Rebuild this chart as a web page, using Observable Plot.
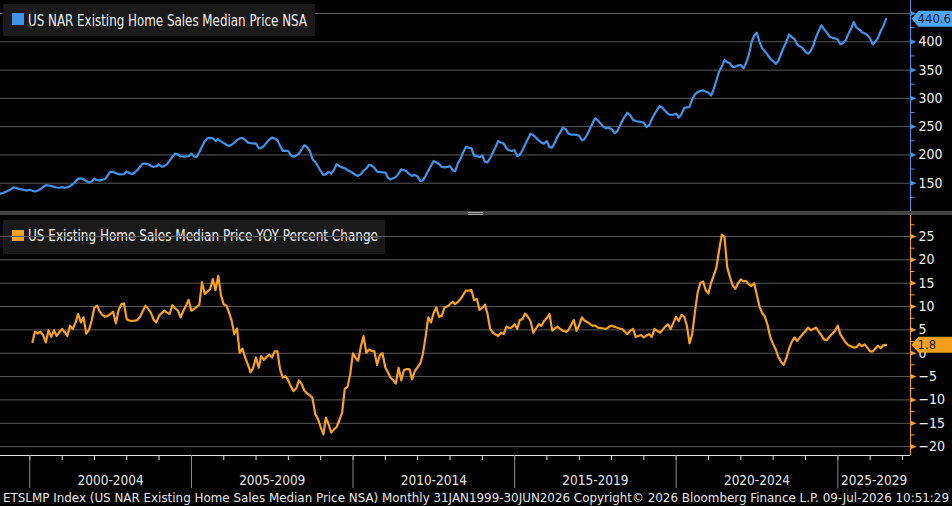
<!DOCTYPE html>
<html>
<head>
<meta charset="utf-8">
<title>US NAR Existing Home Sales Median Price</title>
<script src="https://cdn.jsdelivr.net/npm/d3@7"></script>
<script src="https://cdn.jsdelivr.net/npm/@observablehq/plot@0.6"></script>
<style>
  html, body { margin: 0; padding: 0; background: #000; }
  #chart {
    position: relative; width: 952px; height: 506px; background: #000; overflow: hidden;
    font-family: "DejaVu Sans Condensed", "Liberation Sans Narrow", "DejaVu Sans", sans-serif;
  }
  .layer { position: absolute; left: 0; }
  #sep { top: 211px; width: 952px; height: 4px; background: #454545; z-index: 3; }
  .grip { position: absolute; left: 468px; width: 15px; height: 1px; background: #a8a8a8; }
</style>
</head>
<body>
<div id="chart">
  <svg id="under" class="layer" style="top:0;z-index:0" width="952" height="506"></svg>
  <div id="top" class="layer" style="top:0;z-index:1"></div>
  <div id="bottom" class="layer" style="top:215px;z-index:1"></div>
  <div id="sep" class="layer"><div class="grip" style="top:1px"></div><div class="grip" style="top:3px"></div></div>
  <svg id="over" class="layer" style="top:0;z-index:2" width="952" height="506"></svg>
</div>
<script>
// Median existing-home sales price, thousands of USD, monthly from January 1999
const priceStart = [1999, 0];
const priceValues = [
  131.5, 132.5, 134.5, 136.5, 139.0, 142.5, 142.0, 140.0, 139.0, 138.0, 137.0, 138.5, // 1999
  136.5, 135.3, 137.0, 139.4, 143.0, 146.5, 146.0, 145.3, 143.5, 142.4, 142.0, 143.0, // 2000
  142.0, 142.5, 145.0, 148.2, 153.0, 158.2, 158.5, 157.0, 154.0, 151.2, 153.0, 158.0, // 2001
  155.5, 155.0, 156.0, 157.5, 164.0, 170.6, 170.0, 168.0, 166.0, 165.5, 166.0, 170.6, // 2002
  168.0, 165.9, 169.0, 173.0, 179.0, 184.7, 184.5, 183.5, 181.0, 178.8, 180.0, 183.5, // 2003
  179.0, 180.0, 184.0, 190.0, 197.0, 202.4, 201.0, 197.7, 197.0, 197.5, 197.7, 202.4, // 2004
  197.0, 196.5, 205.3, 215.0, 224.0, 229.4, 230.0, 229.4, 224.7, 227.6, 224.0, 221.0, // 2005
  218.0, 215.9, 218.0, 222.0, 226.0, 229.4, 230.0, 227.0, 221.8, 221.0, 220.5, 220.0, // 2006
  211.8, 212.0, 216.0, 221.8, 227.0, 230.6, 229.0, 225.9, 216.0, 207.0, 207.5, 207.0, // 2007
  199.0, 197.0, 199.0, 202.4, 210.0, 217.1, 214.0, 207.0, 192.4, 188.0, 180.0, 172.0, // 2008
  164.7, 166.0, 170.0, 167.0, 174.0, 183.5, 180.0, 178.0, 176.5, 173.0, 171.0, 168.0, // 2009
  164.5, 163.0, 166.0, 172.0, 176.0, 182.4, 181.0, 177.0, 170.6, 170.0, 169.0, 168.8, // 2010
  160.0, 156.5, 159.0, 161.2, 167.0, 174.7, 173.0, 170.6, 166.0, 163.0, 164.7, 162.0, // 2011
  154.1, 155.0, 163.0, 172.0, 181.0, 189.4, 187.0, 184.0, 178.8, 178.0, 179.0, 180.0, // 2012
  173.0, 171.0, 185.0, 193.0, 205.0, 214.1, 213.0, 211.8, 199.0, 198.0, 196.0, 199.0, // 2013
  188.0, 186.5, 195.0, 204.0, 214.0, 224.7, 222.0, 220.0, 212.0, 208.2, 207.0, 208.5, // 2014
  198.2, 200.0, 208.2, 218.0, 228.0, 237.6, 235.0, 230.6, 226.0, 221.8, 220.0, 224.7, // 2015
  214.0, 213.0, 222.0, 232.0, 240.0, 248.2, 246.0, 237.6, 236.0, 236.0, 235.3, 234.0, // 2016
  225.9, 227.7, 236.0, 246.0, 256.0, 264.7, 261.0, 255.3, 250.0, 247.1, 248.2, 246.0, // 2017
  238.8, 240.6, 250.0, 260.0, 268.0, 274.7, 270.0, 262.0, 260.0, 258.8, 258.5, 257.0, // 2018
  249.4, 252.0, 262.9, 272.0, 280.0, 286.5, 283.0, 277.6, 273.0, 270.6, 271.0, 272.9, // 2019
  265.9, 271.8, 283.0, 284.0, 285.0, 298.0, 307.0, 311.0, 313.0, 314.1, 312.0, 310.0, // 2020
  305.0, 316.0, 332.0, 347.0, 356.0, 367.6, 364.0, 362.0, 355.3, 356.0, 358.2, 359.0, // 2021
  353.0, 362.0, 376.0, 398.0, 411.0, 416.0, 400.0, 388.0, 383.0, 377.0, 370.0, 366.0, // 2022
  361.0, 366.0, 378.0, 390.0, 400.0, 413.0, 408.0, 405.0, 395.0, 392.0, 389.0, 382.0, // 2023
  379.0, 383.5, 394.0, 408.0, 420.0, 429.0, 422.0, 416.0, 409.0, 407.0, 406.0, 404.0, // 2024
  395.3, 398.0, 402.4, 414.0, 423.0, 435.0, 425.0, 422.0, 417.0, 415.0, 412.0, 406.0, // 2025
  395.3, 400.0, 407.0, 419.0, 428.0, 440.6                                            // 2026
];

// Year-over-year percent change of the median price, monthly from January 2000
const yoyStart = [2000, 0];
const yoyValues = [
  2.4, 4.6, 4.2, 4.6, 3.9, 2.3, 4.9, 3.5, 4.9, 3.7, 4.5, 5.2,                 // 2000
  4.5, 3.7, 5.9, 5.2, 6.5, 8.4, 6.6, 7.7, 4.2, 5.0, 7.0, 9.8,                 // 2001
  10.2, 9.0, 8.2, 7.8, 8.0, 8.4, 8.9, 6.4, 9.2, 10.5, 10.7, 7.3,              // 2002
  7.0, 6.9, 7.0, 7.1, 7.8, 9.0, 10.2, 9.5, 8.7, 7.2, 6.6, 8.0,                // 2003
  8.6, 9.1, 8.7, 8.4, 10.3, 9.6, 9.2, 7.7, 9.0, 10.2, 11.4, 9.1,              // 2004
  9.5, 9.9, 10.4, 15.2, 12.7, 13.2, 13.7, 15.9, 13.5, 16.6, 12.5, 10.5,       // 2005
  10.2, 8.8, 7.0, 4.1, 5.3, 0.1, 1.0, -0.9, -2.4, -4.1, -3.1, -0.9,           // 2006
  -3.1, -0.6, -1.4, -0.8, -0.3, -0.9, 0.4, 0.4, -3.5, -5.2, -4.9, -5.8,       // 2007
  -7.2, -8.1, -7.5, -5.8, -6.6, -8.0, -8.6, -9.0, -9.6, -13.0, -14.0, -15.8,  // 2008
  -17.4, -13.8, -15.2, -17.0, -16.3, -15.8, -14.3, -12.7, -7.6, -7.2, -4.5, 0.0, // 2009
  -1.0, -1.6, 1.5, 3.7, 0.1, 0.8, 0.5, 0.4, -2.5, -0.4, 0.0, -3.0,            // 2010
  -4.1, -5.2, -5.8, -6.5, -3.1, -5.8, -3.6, -3.4, -3.4, -5.6, -3.8, -3.0,     // 2011
  -2.2, -0.2, 3.5, 7.7, 6.6, 8.6, 9.8, 7.8, 8.0, 9.8, 10.0, 10.5,             // 2012
  11.0, 10.5, 11.0, 11.6, 12.5, 13.4, 13.4, 13.5, 11.4, 11.6, 9.3, 9.7,       // 2013
  10.4, 8.5, 5.2, 4.4, 4.0, 3.7, 4.4, 4.1, 5.7, 5.4, 5.5, 6.2,                // 2014
  5.2, 7.1, 7.3, 8.5, 7.8, 6.9, 4.4, 5.3, 6.2, 5.9, 6.9, 7.5,                 // 2015
  8.4, 4.9, 5.3, 5.7, 5.2, 4.8, 4.6, 4.9, 6.0, 7.1, 4.8, 6.0,                 // 2016
  7.7, 7.0, 6.7, 6.3, 5.9, 5.9, 5.5, 5.4, 5.3, 5.2, 5.6, 5.9,                 // 2017
  5.7, 5.5, 5.3, 5.2, 4.6, 4.1, 4.8, 5.2, 3.5, 3.7, 3.9, 3.4,                 // 2018
  3.8, 4.1, 3.5, 5.2, 4.8, 4.4, 5.0, 5.7, 6.2, 5.2, 6.5, 7.8,                 // 2019
  6.9, 8.2, 7.9, 6.0, 2.1, 4.1, 8.8, 13.0, 15.0, 15.4, 13.5, 12.8,            // 2020
  15.2, 16.6, 18.4, 22.0, 25.4, 24.9, 18.4, 16.3, 14.6, 13.8, 15.0, 15.8,     // 2021
  15.4, 15.5, 14.8, 14.4, 15.0, 12.6, 10.0, 8.6, 7.8, 6.0, 3.4, 2.0,          // 2022
  0.8, -0.8, -1.8, -2.5, -1.0, 1.0, 2.5, 3.4, 2.6, 3.4, 4.1, 4.7,             // 2023
  5.5, 4.9, 5.2, 5.5, 4.6, 3.8, 2.9, 2.8, 3.6, 4.2, 4.8, 5.9,                 // 2024
  4.0, 3.2, 2.3, 1.7, 1.5, 1.2, 1.3, 2.0, 1.5, 1.9, 1.2, 0.4,                 // 2025
  0.4, 1.0, 1.6, 1.1, 1.7, 1.8                                                // 2026
];

// Axis ticks
const priceTicks = [150, 200, 250, 300, 350, 400, 450];
const priceTickLabels = [150, 200, 250, 300, 350, 400];
const priceMinorTicks = [125, 175, 225, 275, 325, 375, 425];
const yoyTicks = [-20, -15, -10, -5, 0, 5, 10, 15, 20, 25];
const yoyMinorTicks = [-17.5, -12.5, -7.5, -2.5, 2.5, 7.5, 12.5, 17.5, 22.5, 27.5];
const periodStarts = [2000, 2005, 2010, 2015, 2020, 2025];
const periodLabels = ["2000-2004", "2005-2009", "2010-2014", "2015-2019", "2020-2024", "2025-2029"];

const priceTitle = "US NAR Existing Home Sales Median Price NSA";
const yoyTitle = "US Existing Home Sales Median Price YOY Percent Change";
const footer = "ETSLMP Index (US NAR Existing Home Sales Median Price NSA) Monthly 31JAN1999-30JUN2026  Copyright\u00A9 2026 Bloomberg Finance L.P.  09-Jul-2026 10:51:29";

// Styling
const BLUE = "#3f93ea";
const BLUE_TAG = "#4ea5f6";
const ORANGE = "#f7a11e";
const ORANGE_TAG = "#f5a01c";
const GRID = "#5a5a5a";
const FONT = '"DejaVu Sans Condensed", "Liberation Sans Narrow", "DejaVu Sans", sans-serif';

// Helpers
const monthEnd = (y, m) => new Date(Date.UTC(y, m + 1, 0));
const toSeries = (values, [y0, m0]) =>
  values.map((v, i) => ({date: monthEnd(y0 + Math.floor((m0 + i) / 12), (m0 + i) % 12), value: v}));
const fracYear = t => {
  const y = Math.floor(t), a = Date.UTC(y, 0, 1), b = Date.UTC(y + 1, 0, 1);
  return new Date(a + (t - y) * (b - a));
};
const fmt = v => (v < 0 ? "\u2212" + Math.abs(v) : String(v));

const priceSeries = toSeries(priceValues, priceStart);
const yoySeries = toSeries(yoyValues, yoyStart);
const lastPrice = priceSeries[priceSeries.length - 1];
const lastYoy = yoySeries[yoySeries.length - 1];

const xDomain = [fracYear(1999.093), fracYear(2027.25)];
const xEnd = xDomain[1];

// Right-hand axis glyphs
const tickArrow = {draw(ctx) { ctx.moveTo(0, -2.6); ctx.lineTo(6, 0); ctx.lineTo(0, 2.6); ctx.closePath(); }};
const minorDash = {draw(ctx) { ctx.moveTo(0, 0); ctx.lineTo(4, 0); }};
const valueTag = {draw(ctx) { ctx.moveTo(0, 0); ctx.lineTo(7, -8); ctx.lineTo(46, -8); ctx.lineTo(46, 8); ctx.lineTo(7, 8); ctx.closePath(); }};

const baseStyle = {background: "none", color: "#f0f0f0", fontFamily: FONT, fontSize: "14px", overflow: "visible"};

function rightAxis(ticks, labels, minor, color, tagColor, last, fmtLast) {
  return [
    Plot.ruleX([xEnd], {stroke: color, strokeWidth: 1}),
    Plot.dot(minor, {x: () => xEnd, y: d => d, symbol: minorDash, stroke: color, fill: "none", strokeWidth: 1}),
    Plot.dot(ticks, {x: () => xEnd, y: d => d, symbol: tickArrow, fill: color, stroke: "none"}),
    Plot.text(labels, {x: () => xEnd, y: d => d, text: d => fmt(d), textAnchor: "start", dx: 8, fill: "#f0f0f0", fontSize: 14}),
    Plot.dot([last], {x: () => xEnd, y: "value", symbol: valueTag, fill: tagColor, stroke: "none", dx: 1}),
    Plot.text([last], {x: () => xEnd, y: "value", text: fmtLast, textAnchor: "start", dx: 7, fill: "#10202e", fontSize: 13})
  ];
}

// Upper panel: price level
const topChart = Plot.plot({
  width: 952, height: 211,
  marginLeft: 0, marginRight: 42, marginTop: 0, marginBottom: 0,
  style: baseStyle,
  x: {type: "utc", domain: xDomain, axis: null},
  y: {domain: [100, 473], axis: null},
  marks: [
    Plot.ruleY(priceTicks, {stroke: GRID, strokeWidth: 1}),
    Plot.line(priceSeries, {x: "date", y: "value", stroke: BLUE, strokeWidth: 2.2, strokeLinejoin: "round"}),
    ...rightAxis(priceTicks, priceTickLabels, priceMinorTicks, BLUE, BLUE_TAG, lastPrice, d => d.value.toFixed(1))
  ]
});
document.getElementById("top").append(topChart);

// Lower panel: year-over-year change, with the shared time axis beneath it
const yoyDomain = [-21.9, 29.5];
const plotH = 240;
const perPx = (yoyDomain[1] - yoyDomain[0]) / plotH;
const below = px => yoyDomain[0] - px * perPx;

const yearTicks = d3.range(2000, 2028).map(y => new Date(Date.UTC(y, 0, 1)));
const periods = periodStarts.map((s, i) => {
  const a = Math.max(+new Date(Date.UTC(s, 0, 1)), +xDomain[0]);
  const b = Math.min(+new Date(Date.UTC(s + 5, 0, 1)), +xDomain[1]);
  return {start: new Date(Date.UTC(s, 0, 1)), mid: new Date((a + b) / 2), label: periodLabels[i]};
});

const bottomChart = Plot.plot({
  width: 952, height: 275,
  marginLeft: 0, marginRight: 42, marginTop: 0, marginBottom: 35,
  style: baseStyle,
  x: {type: "utc", domain: xDomain, axis: null},
  y: {domain: yoyDomain, axis: null},
  marks: [
    Plot.ruleY(yoyTicks, {stroke: GRID, strokeWidth: 1}),
    Plot.line(yoySeries, {x: "date", y: "value", stroke: ORANGE, strokeWidth: 2.2, strokeLinejoin: "round"}),
    Plot.ruleY([yoyDomain[0]], {stroke: "#e4e4e4", strokeWidth: 1}),
    Plot.ruleX(yearTicks, {x: d => d, y1: yoyDomain[0], y2: below(5), stroke: "#e4e4e4"}),
    Plot.ruleX(periods, {x: "start", y1: yoyDomain[0], y2: below(33), stroke: "#8a8a8a"}),
    Plot.text(periods, {x: "mid", y: below(25.5), text: "label", fill: "#e6e6e6", fontSize: 13.5}),
    ...rightAxis(yoyTicks, yoyTicks, yoyMinorTicks, ORANGE, ORANGE_TAG, lastYoy, d => d.value.toFixed(1))
  ]
});
document.getElementById("bottom").append(bottomChart);

// Legend boxes and source line
const under = d3.select("#under");
under.append("rect").attr("x", 3).attr("y", 220).attr("width", 382).attr("height", 34).attr("fill", "#1a1a1a");
under.append("rect").attr("x", 12).attr("y", 230).attr("width", 12).attr("height", 11).attr("fill", ORANGE);
under.append("text").attr("x", 28).attr("y", 241).attr("font-size", 15).attr("fill", "#eeeeee")
  .attr("font-family", FONT).attr("textLength", 350).attr("lengthAdjust", "spacingAndGlyphs").text(yoyTitle);

const over = d3.select("#over");
over.append("rect").attr("x", 3).attr("y", 4).attr("width", 312).attr("height", 32).attr("fill", "#1a1a1a");
over.append("rect").attr("x", 12).attr("y", 13).attr("width", 12).attr("height", 12).attr("fill", BLUE);
over.append("text").attr("x", 28).attr("y", 26).attr("font-size", 15).attr("fill", "#eeeeee")
  .attr("font-family", FONT).attr("textLength", 279).attr("lengthAdjust", "spacingAndGlyphs").text(priceTitle);
over.append("text").attr("x", 3).attr("y", 502).attr("font-size", 13).attr("fill", "#e6e6e6")
  .attr("font-family", FONT).attr("textLength", 946).attr("lengthAdjust", "spacingAndGlyphs").text(footer);
</script>
</body>
</html>
